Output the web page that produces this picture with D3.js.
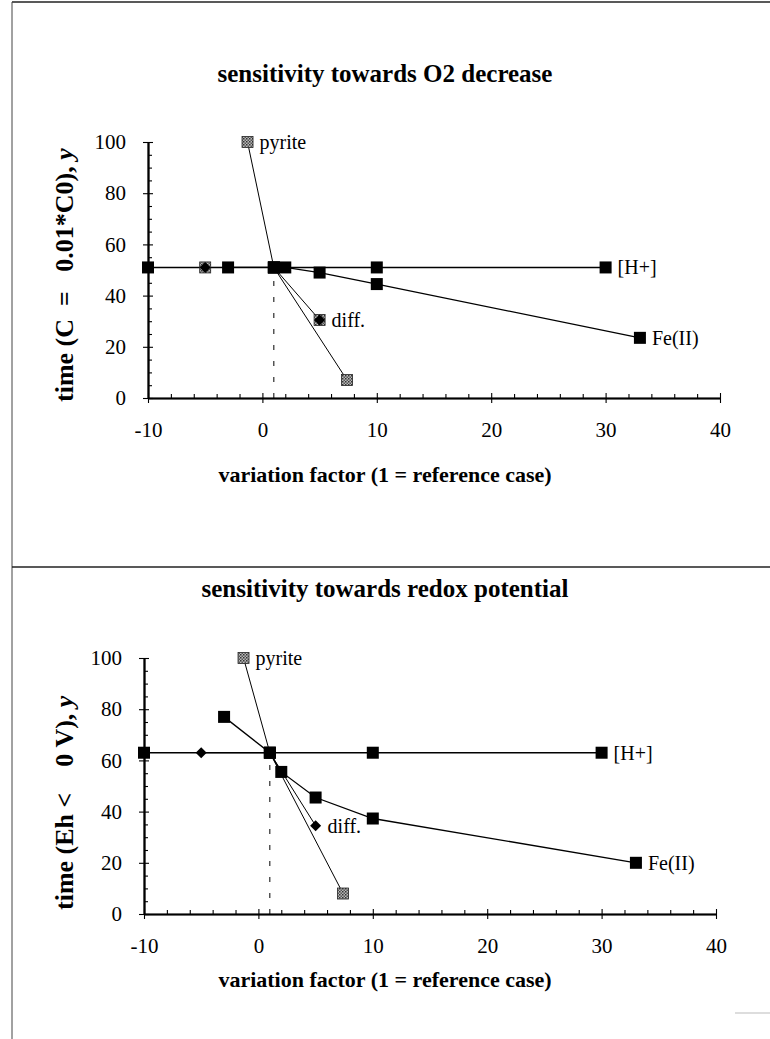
<!DOCTYPE html>
<html>
<head>
<meta charset="utf-8">
<script src="https://cdn.jsdelivr.net/npm/d3@7"></script>
<style>
  body { margin: 0; background: #fff; }
  svg { display: block; }
  text { font-family: "Liberation Serif", "Times New Roman", serif; }
</style>
</head>
<body>
<div id="canvas"></div>
<script>
// axis ticks
const xTicks = [-10, 0, 10, 20, 30, 40]
const xMinor = [-8, -6, -4, -2, 2, 4, 6, 8, 12, 14, 16, 18, 22, 24, 26, 28, 32, 34, 36, 38]
const yTicks = [0, 20, 40, 60, 80, 100]
const yMinor = [5, 10, 15, 25, 30, 35, 45, 50, 55, 65, 70, 75, 85, 90, 95]

// variation factors of each series
const hX = [-10, 1, 10, 30]
const feX = [-3, 1, 2, 5, 10, 33]
const diffX = [-5, 1, 5]
const pyrX = [-1.3, 1, 7.4]

// sensitivity towards O2 decrease
const o2H = [51, 51, 51, 51]
const o2Fe = [51, 51, 51, 49, 44.5, 23.5]
const o2Diff = [51, 51, 30.5]
const o2Pyr = [100, 51, 7]

// sensitivity towards redox potential
const ehH = [63, 63, 63, 63]
const ehFe = [77, 63, 55.5, 45.5, 37.3, 20]
const ehDiff = [63, 63, 34.5]
const ehPyr = [100, 63, 8]

const width = 770
const height = 1039

const svg = d3.select('#canvas').append('svg')
  .attr('width', width)
  .attr('height', height)

// grey speckled fill for the pyrite markers
const pat = svg.append('defs').append('pattern')
  .attr('id', 'speckle')
  .attr('width', 3).attr('height', 3)
  .attr('patternUnits', 'userSpaceOnUse')
pat.append('rect').attr('width', 3).attr('height', 3).attr('fill', '#b8b8b8')
pat.append('rect').attr('width', 1.5).attr('height', 1.5).attr('fill', '#333')
pat.append('rect').attr('x', 1.5).attr('y', 1.5).attr('width', 1.5).attr('height', 1.5).attr('fill', '#555')

// page frame
svg.append('line').attr('x1', 12).attr('x2', width).attr('y1', 2).attr('y2', 2)
  .attr('stroke', '#222').attr('stroke-width', 1.5)
svg.append('line').attr('x1', 12).attr('x2', 12).attr('y1', 2).attr('y2', height)
  .attr('stroke', '#444').attr('stroke-width', 1)
svg.append('line').attr('x1', 12).attr('x2', width).attr('y1', 567).attr('y2', 567)
  .attr('stroke', '#222').attr('stroke-width', 1.5)
svg.append('line').attr('x1', 735).attr('x2', width).attr('y1', 1013).attr('y2', 1013)
  .attr('stroke', '#bbb').attr('stroke-width', 1)

function panel(cfg) {
  const x = d3.scaleLinear().domain([-10, 40]).range([cfg.left, cfg.left + 572])
  const y = d3.scaleLinear().domain([0, 100]).range([cfg.bottom, cfg.bottom - 256])
  const g = svg.append('g')

  //title
  g.append('text')
    .attr('x', 385).attr('y', cfg.titleY)
    .attr('text-anchor', 'middle')
    .attr('font-size', 25).attr('font-weight', 'bold')
    .text(cfg.title)

  //eje x
  const xa = g.append('g').attr('transform', `translate(0,${cfg.bottom})`)
  xa.call(d3.axisBottom(x).tickValues(xTicks).tickFormat((d) => String(d))
    .tickSize(5).tickPadding(19).tickSizeOuter(0))
  xa.append('g').call(d3.axisTop(x).tickValues(xTicks).tickSize(5).tickFormat('').tickSizeOuter(0))
  xa.append('g').call(d3.axisTop(x).tickValues(xMinor).tickSize(4).tickFormat('').tickSizeOuter(0))
  xa.selectAll('text').attr('font-size', 21).attr('font-family', null).attr('fill', '#000')

  //eje y
  const ya = g.append('g').attr('transform', `translate(${cfg.left},0)`)
  ya.call(d3.axisLeft(y).tickValues(yTicks).tickSize(5).tickPadding(17).tickSizeOuter(0))
  ya.append('g').call(d3.axisRight(y).tickValues(yTicks).tickSize(5).tickFormat('').tickSizeOuter(0))
  ya.append('g').call(d3.axisRight(y).tickValues(yMinor).tickSize(4).tickFormat('').tickSizeOuter(0))
  ya.selectAll('text').attr('font-size', 21).attr('font-family', null).attr('fill', '#000')

  g.selectAll('.domain').attr('stroke', '#000').attr('stroke-width', 1.6)
  g.selectAll('.tick line').attr('stroke', '#000').attr('stroke-width', 1.1)

  //label eje x
  g.append('text')
    .attr('x', 385).attr('y', cfg.xLabelY)
    .attr('text-anchor', 'middle')
    .attr('font-size', 22).attr('font-weight', 'bold')
    .text('variation factor (1 = reference case)')

  //label eje y
  const yl = g.append('text')
    .attr('transform', `translate(${cfg.yLabelX},${cfg.yLabelY}) rotate(-90)`)
    .attr('text-anchor', 'start')
    .attr('font-size', 26).attr('font-weight', 'bold')
    .style('white-space', 'pre')
  yl.append('tspan').text(cfg.yLabel)
  yl.append('tspan').attr('font-style', 'italic').text('y')

  // reference case
  g.append('line')
    .attr('x1', x(1)).attr('x2', x(1))
    .attr('y1', y(0)).attr('y2', y(cfg.h[1] - 4))
    .attr('stroke', '#000').attr('stroke-width', 1)
    .attr('stroke-dasharray', '5,11')

  const line = d3.line().x((d) => x(d[0])).y((d) => y(d[1]))
  const series = [
    { xs: hX, ys: cfg.h, w: 1.5 },
    { xs: feX, ys: cfg.fe, w: 1.3 },
    { xs: diffX, ys: cfg.diff, w: 1 },
    { xs: pyrX, ys: cfg.pyr, w: 1 },
  ]
  series.forEach((s) => {
    g.append('path')
      .datum(d3.zip(s.xs, s.ys))
      .attr('d', line)
      .attr('fill', 'none')
      .attr('stroke', '#000')
      .attr('stroke-width', s.w)
  })

  // pyrite markers
  g.selectAll('.pyr').data(d3.zip(pyrX, cfg.pyr)).enter().append('rect')
    .attr('x', (d) => x(d[0]) - 5.5).attr('y', (d) => y(d[1]) - 5.5)
    .attr('width', 11).attr('height', 11)
    .attr('fill', 'url(#speckle)').attr('stroke', '#222').attr('stroke-width', 0.8)

  // diff markers
  const dpts = d3.zip(diffX, cfg.diff)
  if (cfg.diffSquare) {
    g.selectAll('.dsq').data(dpts).enter().append('rect')
      .attr('x', (d) => x(d[0]) - 5.5).attr('y', (d) => y(d[1]) - 5.5)
      .attr('width', 11).attr('height', 11)
      .attr('fill', 'url(#speckle)').attr('stroke', '#222').attr('stroke-width', 0.8)
  }
  g.selectAll('.dia').data(dpts).enter().append('path')
    .attr('d', (d) => {
      const cx = x(d[0]), cy = y(d[1]), r = 5.5
      return `M${cx},${cy - r}L${cx + r},${cy}L${cx},${cy + r}L${cx - r},${cy}Z`
    })
    .attr('fill', '#000')

  // black squares for [H+] and Fe(II)
  const sq = d3.zip(hX, cfg.h).concat(d3.zip(feX, cfg.fe))
  g.selectAll('.sq').data(sq).enter().append('rect')
    .attr('x', (d) => x(d[0]) - 6).attr('y', (d) => y(d[1]) - 6)
    .attr('width', 12).attr('height', 12)
    .attr('fill', '#000')

  //series labels
  const labels = [
    { t: 'pyrite', p: [pyrX[0], cfg.pyr[0]] },
    { t: '[H+]', p: [hX[3], cfg.h[3]] },
    { t: 'Fe(II)', p: [feX[5], cfg.fe[5]] },
    { t: 'diff.', p: [diffX[2], cfg.diff[2]] },
  ]
  labels.forEach((l) => {
    g.append('text')
      .attr('x', x(l.p[0]) + 12).attr('y', y(l.p[1]) + 7)
      .attr('font-size', 20)
      .text(l.t)
  })
}

panel({
  left: 148, bottom: 398, titleY: 82, xLabelY: 482, yLabelX: 73, yLabelY: 402,
  title: 'sensitivity towards O2 decrease',
  yLabel: 'time (C  =   0.01*C0), ',
  h: o2H, fe: o2Fe, diff: o2Diff, pyr: o2Pyr, diffSquare: true,
})

panel({
  left: 144, bottom: 914, titleY: 597, xLabelY: 987, yLabelX: 73, yLabelY: 910,
  title: 'sensitivity towards redox potential',
  yLabel: 'time (Eh <    0 V), ',
  h: ehH, fe: ehFe, diff: ehDiff, pyr: ehPyr, diffSquare: false,
})
</script>
</body>
</html>
